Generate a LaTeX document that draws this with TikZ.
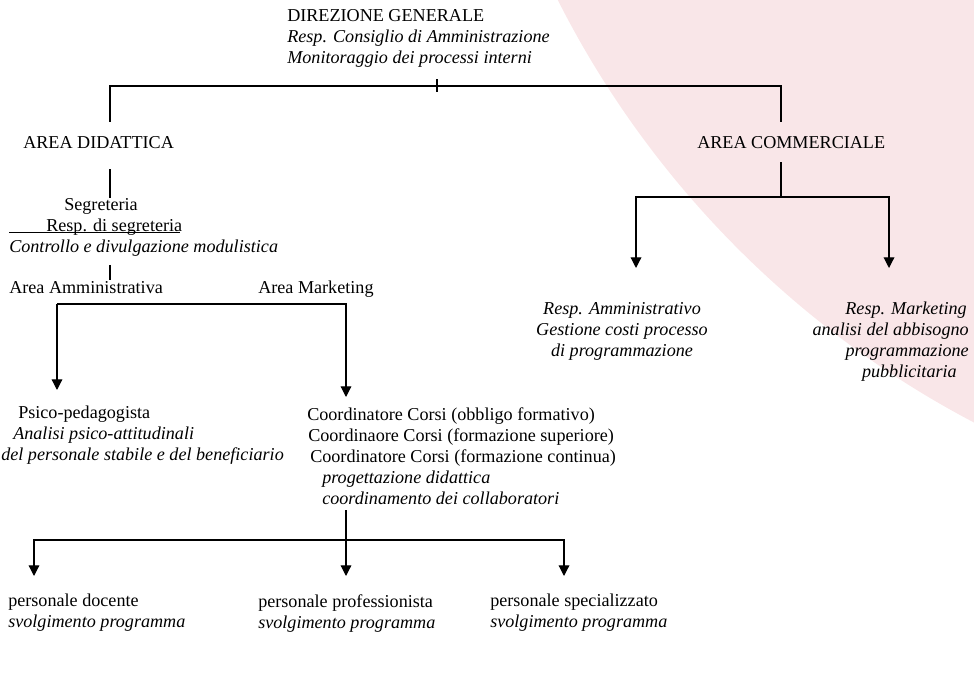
\documentclass[tikz,border=0pt]{standalone}
\usepackage{fontspec}
\setmainfont{Liberation Serif}
\usetikzlibrary{arrows.meta}
\definecolor{bgpink}{RGB}{249,230,232}
\tikzset{
  orgtxt/.style = {align=left, inner sep=0pt, anchor=north west,
    font=\fontsize{13.6}{15.75}\selectfont,
    execute at begin node={\vphantom{(f}}},% testo allineato a sinistra
  orgmid/.style = {orgtxt, align=center, anchor=north},% testo centrato
  orgright/.style = {orgtxt, align=right, anchor=north east},% testo a destra
  link/.style = {line width=0.9pt},% linea semplice
  arr/.style = {link, -{Triangle[length=8pt,width=8pt]}}% linea con freccia
}

\begin{document}
\begin{tikzpicture}[x=0.75pt,y=-0.75pt]
  \useasboundingbox (0,0) rectangle (974,673);
  \begin{scope}
    \clip (0,0) rectangle (974,673);
    \fill[bgpink] (1424,-437) circle[radius=727.5pt];
  \end{scope}

  % nodi
  \node[orgtxt] (dir) at (287,9) {DIREZIONE GENERALE\\
    \textit{Resp. Consiglio di Amministrazione}\\
    \textit{Monitoraggio dei processi interni}};
  \node[orgtxt] (did) at (23,135) {AREA DIDATTICA};
  \node[orgtxt] (com) at (697,135) {AREA COMMERCIALE};
  \node[orgtxt] (seg) at (9,198) {\hspace*{41.25pt}Segreteria\\
    \rlap{\rule[-1.2pt]{128.25pt}{0.6pt}}\hspace*{27.75pt}Resp. di segreteria\\
    \textit{Controllo e divulgazione modulistica}};
  \node[orgtxt] (amm) at (9,280) {Area Amministrativa};
  \node[orgtxt] (mkt) at (258,280) {Area Marketing};
  \node[orgtxt] (psi) at (1,406) {\hspace*{12.75pt}Psico-pedagogista\\
    \hspace*{9pt}\textit{Analisi psico-attitudinali}\\
    \textit{del personale stabile e del beneficiario}};
  \node[orgtxt] (crd) at (307,407) {Coordinatore Corsi (obbligo formativo)\\
    \hspace*{0.75pt}Coordinaore Corsi (formazione superiore)\\
    \hspace*{2.25pt}Coordinatore Corsi (formazione continua)\\
    \hspace*{11.25pt}\textit{progettazione didattica}\\
    \hspace*{11.25pt}\textit{coordinamento dei collaboratori}};
  \node[orgmid] (ram) at (622,302) {\textit{Resp. Amministrativo}\\
    \textit{Gestione costi processo}\\
    \textit{di programmazione}};
  \node[orgright] (rmk) at (969,302) {\textit{Resp. Marketing}\hspace*{1.5pt}\\
    \textit{analisi del abbisogno}\\
    \textit{programmazione}\hspace*{5.25pt}\\
    \textit{pubblicitaria}\hspace*{9pt}};
  \node[orgtxt] (doc) at (8,594) {personale docente\\
    \textit{svolgimento programma}};
  \node[orgtxt] (pro) at (258,594) {personale professionista\\
    \textit{svolgimento programma}};
  \node[orgtxt] (spe) at (490,594) {personale specializzato\\
    \textit{svolgimento programma}};

  % punti di raccordo
  \coordinate (dirbar) at (437,86);
  \coordinate (didx) at (110,0);
  \coordinate (comx) at (781,0);
  \coordinate (ambar) at (57,304);
  \coordinate (mktx) at (346,0);
  \coordinate (cmbar) at (781,197);
  \coordinate (ramx) at (636,0);
  \coordinate (rmkx) at (889,0);
  \coordinate (stfbar) at (346,540);
  \coordinate (docx) at (34,0);
  \coordinate (spex) at (564,0);

  % collegamenti
  \draw[link, shorten <=9pt] (dir.south -| dirbar) -- ([yshift=-4.5pt]dirbar);
  \draw[link, shorten <=9.75pt, shorten >=9.75pt]
    (did.north -| didx) |- (dirbar) -| (com.north -| comx);
  \draw[link, shorten <=12.75pt] (did.south -| didx) -- (seg.north -| didx);
  \draw[link, shorten <=6.4pt] (seg.south -| didx) -- (amm.north -| didx);
  \draw[arr, shorten >=12pt] (ambar) -- (psi.north -| ambar);
  \draw[arr, shorten >=7.5pt] (ambar) -| (crd.north -| mktx);
  \draw[link, shorten <=7.5pt] (com.south -| comx) -- (cmbar);
  \draw[arr, shorten >=25.5pt] (cmbar) -| (ram.north -| ramx);
  \draw[arr, shorten >=25.5pt] (cmbar) -| (rmk.north -| rmkx);
  \draw[link, shorten <=1.5pt] (crd.south -| mktx) -- (stfbar);
  \draw[arr, shorten >=13.5pt] (stfbar) -| (doc.north -| docx);
  \draw[arr, shorten >=13.5pt] (stfbar) -- (pro.north -| stfbar);
  \draw[arr, shorten >=13.5pt] (stfbar) -| (spe.north -| spex);
\end{tikzpicture}
\end{document}
